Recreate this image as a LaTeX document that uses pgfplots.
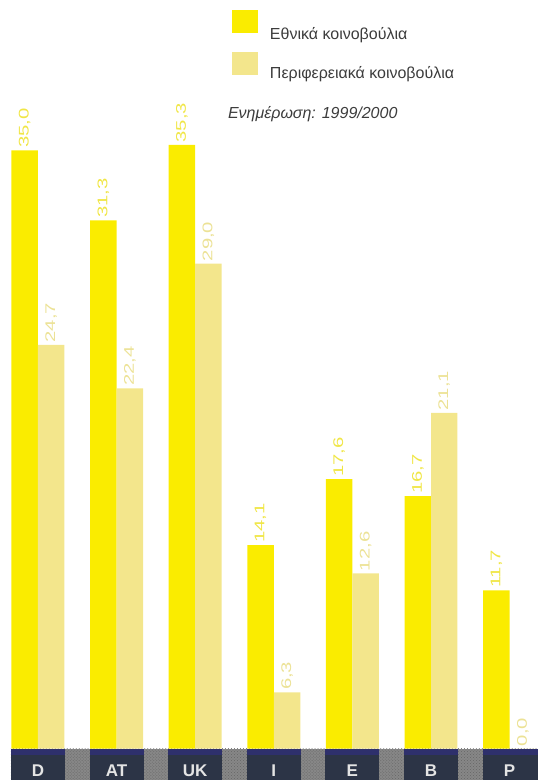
\documentclass[border=0pt]{standalone}
\usepackage{fontspec}
\setmainfont{Liberation Sans}
\usepackage{pgfplots}
\pgfplotsset{compat=1.18}
\usetikzlibrary{patterns}
\definecolor{natyellow}{RGB}{250,236,0}
\definecolor{regyellow}{RGB}{243,230,140}
\definecolor{natlabel}{RGB}{240,230,70}
\definecolor{reglabel}{RGB}{236,226,150}
\definecolor{bandnavy}{RGB}{44,52,70}
\definecolor{bandblue}{RGB}{46,48,108}
\definecolor{bandgrey}{RGB}{135,135,135}
\definecolor{ticktext}{RGB}{228,228,228}
\definecolor{legendtext}{RGB}{60,60,60}

\begin{document}
\begin{tikzpicture}
\begin{scope}[x=1bp,y=1bp]
\path[use as bounding box] (0,0) rectangle (538,780);

% country band under the bars
\fill[bandgrey] (11,0) rectangle (538,31);
\fill[pattern=crosshatch dots, pattern color=black!60] (11,0) rectangle (538,31);
\foreach \k in {0,...,5}{
  \pgfmathsetmacro\c{38+78.67*\k}
  \fill[bandnavy] ({\c-27},0) rectangle ({\c+27},31);
  \fill[bandblue] ({\c-27},25) rectangle ({\c+27},31);
}
\fill[bandnavy] (483,0) rectangle (538,31);
\fill[bandblue] (483,25) rectangle (538,31);
\end{scope}

\begin{axis}[
    at={(0bp,31bp)}, anchor=south west,
    scale only axis,
    width=538bp, height=749bp,
    xmin=-0.483, xmax=6.356,
    ymin=3.33, ymax=42.96,
    ybar=0pt,
    bar width=26.5bp,
    axis line style={draw=none},
    major tick length=0pt,
    ytick=\empty,
    xtick={0,...,6},
    xticklabels={D,AT,UK,I,E,B,P},
    xticklabel style={font=\fontsize{17bp}{17bp}\selectfont\bfseries,
        text=ticktext, anchor=base, yshift=-28bp},
    nodes near coords={\pgfmathprintnumber[fixed,fixed zerofill,precision=1,
        use comma,assume math mode=true]{\pgfplotspointmeta}},
    every node near coord/.append style={rotate=90, anchor=west, xscale=1.45,
        inner xsep=1.5bp, font=\fontsize{14bp}{14bp}\selectfont},
]
% national parliaments
\addplot[fill=natyellow, draw=none,
    every node near coord/.append style={text=natlabel}] coordinates {
    (0,35.0) (1,31.3) (2,35.3) (3,14.1) (4,17.6) (5,16.7) (6,11.7)
};
% regional parliaments
\addplot[fill=regyellow, draw=none,
    y filter/.expression={y<3.33 ? 3.33 : y}, point meta=rawy,
    every node near coord/.append style={text=reglabel}] coordinates {
    (0,24.7) (1,22.4) (2,29.0) (3,6.3) (4,12.6) (5,21.1) (6,0.0)
};
\end{axis}

% legend
\begin{scope}[x=1bp,y=1bp]
\fill[natyellow] (232,747) rectangle (258,770);
\fill[regyellow] (232,705) rectangle (258,728);
\begin{scope}[every node/.style={anchor=base west, inner sep=0pt, text=legendtext,
    font=\fontsize{16bp}{16bp}\selectfont}]
\node at (270,741) {Εθνικά κοινοβούλια};
\node at (270,702) {Περιφερειακά κοινοβούλια};
\node[font=\fontsize{16bp}{16bp}\selectfont\itshape] at (228,662) {Ενημέρωση: 1999/2000};
\end{scope}
\end{scope}
\end{tikzpicture}
\end{document}
